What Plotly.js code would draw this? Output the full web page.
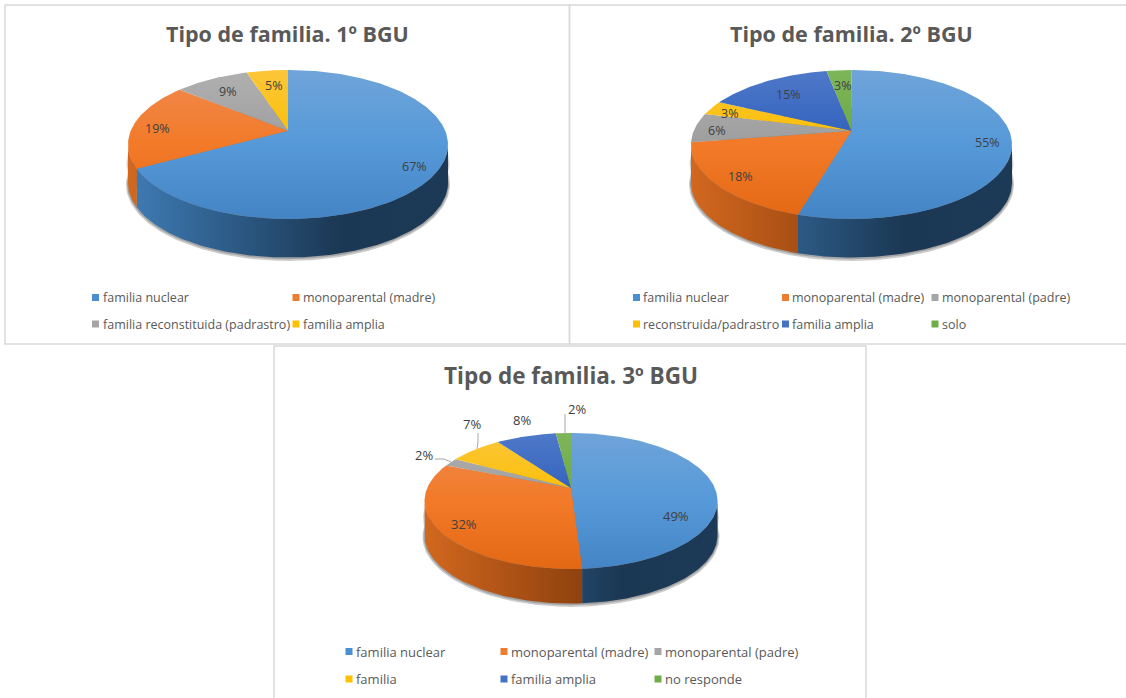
<!DOCTYPE html>
<html><head><meta charset="utf-8">
<script src="https://cdn.plot.ly/plotly-3.0.1.min.js"></script>
<style>html,body{margin:0;padding:0;background:#fff}#c{width:1126px;height:698px}</style>
</head><body><div id="c"></div>
<script>
// ---- data ----
const titleA = 'Tipo de familia. 1º BGU';
const catsA = ['familia nuclear','monoparental (madre)','familia reconstituida (padrastro)','familia amplia'];
const valsA = [67,19,9,5];
const colorsA = ['blue','orange','gray','yellow'];

const titleB = 'Tipo de familia. 2º BGU';
const catsB = ['familia nuclear','monoparental (madre)','monoparental (padre)','reconstruida/padrastro','familia amplia','solo'];
const valsB = [54.5,18,6.4,3.1,15,3];
const colorsB = ['blue','orange','gray','yellow','navy','green'];

const titleC = 'Tipo de familia. 3º BGU';
const catsC = ['familia nuclear','monoparental (madre)','monoparental (padre)','familia','familia amplia','no responde'];
const valsC = [49,32,2,7,8,2];
const colorsC = ['blue','orange','gray','yellow','navy','green'];

// ---- styles ----
const palette = {
  blue:  {key:'#4a90d0', top:['#6fa4d9','#5699d9','#4484c4'], side:['#3f7cb5','#2c5a85','#1b3753','#1c3a57']},
  orange:{key:'#ed7d31', top:['#f08a50','#f27a28','#e46814'], side:['#d2681f','#a84f14','#7f3a0c','#7f3a0c']},
  gray:  {key:'#a5a5a5', top:['#b0b0b0','#9e9e9e','#9c9c9c'], side:['#8a8a8a','#6a6a6a','#505050','#505050']},
  yellow:{key:'#ffc000', top:['#fdc63a','#f9bf00','#f5bb00'], side:['#c79600','#a07800','#7a5c00','#7a5c00']},
  navy:  {key:'#4472c4', top:['#4f79c9','#2f5fbc','#2f5fb8'], side:['#36599a','#2a4678','#1c2f52','#1c2f52']},
  green: {key:'#70ad47', top:['#7db65a','#6aa843','#68a53f'], side:['#578737','#41662a','#2f4a1e','#2f4a1e']}
};
const textColor = '#595959', labelColor = '#404040';
const fontFamily = 'Open Sans, sans-serif';

// ---- layout of each panel ----
const panels = [
 {title:titleA,cats:catsA,vals:valsA,cols:colorsA,cx:288,cy:144.5,rx:160,ry:74.5,k:0.185,depth:38.5,titleX:287.5,titleY:33,titleSize:21.5,textSize:12.5,
  labels:[[414,166],[157,128],[227,91],[273,85]],
  legend:{xs:[95.5,296],ys:[297.5,324],ncol:2,gap:8}},
 {title:titleB,cats:catsB,vals:valsB,cols:colorsB,cx:851.5,cy:144.5,rx:160.5,ry:74.5,k:0.185,depth:38.5,titleX:851,titleY:33,titleSize:21.5,textSize:12.5,
  labels:[[987,142],[740,176],[716,130],[729,113],[788,94],[842,85]],
  legend:{xs:[636.5,785.5,935],ys:[297.5,324],ncol:3,gap:7.5}},
 {title:titleC,cats:catsC,vals:valsC,cols:colorsC,cx:571,cy:501,rx:146.5,ry:68,k:0.19,depth:34.5,titleX:570.5,titleY:375,titleSize:22.5,textSize:13,
  labels:[[676,516],[464,524],[424,455],[472,424],[522,420],[576.5,409]],
  legend:{xs:[349,504,658],ys:[651.5,679],ncol:3,gap:8},
  leaders:[[[435,459],[444,459],[451,462]],[[478,433],[478,442],[477,449]],[[565,414],[565,433]]]}
];
const frames = [[5,5,569.5,344],[569.5,5,1130,344],[274,346,866,702]];

// perspective projection of a point at clockwise fraction f of the circle rim
function rim(p,f,r){
  const u=Math.sin(2*Math.PI*f), v=Math.cos(2*Math.PI*f), rr=r===undefined?1:r;
  const w=1+p.k*v*rr, c=p.rx*Math.sqrt(1-p.k*p.k);
  return [p.cx+c*u*rr/w, p.cy-p.ry*(v*rr+p.k)/w];
}
function arc(p,f0,f1){
  const n=Math.max(2,Math.ceil((f1-f0)*360)), out=[];
  for(let i=0;i<=n;i++) out.push(rim(p,f0+(f1-f0)*i/n));
  return out;
}
function scale(cols){return cols.map((c,i)=>[i/(cols.length-1),c]);}
function poly(pts,fill){
  return Object.assign({type:'scatter',mode:'lines',x:pts.map(q=>q[0]),y:pts.map(q=>q[1]),
    fill:'toself',line:{width:0},hoverinfo:'skip',showlegend:false},fill);
}

const traces=[], annotations=[], shapes=[];
frames.forEach(f=>shapes.push({type:'rect',xref:'x',yref:'y',x0:f[0],y0:f[1],x1:f[2],y1:f[3],line:{color:'#d9d9d9',width:1.5},layer:'below'}));

panels.forEach(p=>{
  const total=p.vals.reduce((a,b)=>a+b,0);
  const labelFont={family:fontFamily,size:p.textSize,color:labelColor};
  const legendFont={family:fontFamily,size:p.textSize,color:textColor};
  const titleFont={family:fontFamily,size:p.titleSize,color:'#595959',weight:700};
  // soft shadow under the disc
  [2,1].forEach(d=>{
    const pts=[];
    for(let i=0;i<=180;i++){const t=2*Math.PI*i/180;pts.push([p.cx+(p.rx+d)*Math.sin(t),p.cy+p.depth+d*0.7+(p.ry+d)*Math.cos(t)]);}
    traces.push(poly(pts,{fillcolor:'rgba(0,0,0,0.2)'}));
  });
  [2,1].forEach(d=>{
    const pts=[];
    for(let i=0;i<=180;i++){const t=2*Math.PI*i/180;pts.push([p.cx+(p.rx+d*0.8)*Math.sin(t),p.cy+p.depth*0.5+(p.ry)*Math.cos(t)]);}
    traces.push(poly(pts,{fillcolor:'rgba(0,0,0,0.12)'}));
  });
  // side walls
  const fR=Math.acos(-p.k)/(2*Math.PI), fL=1-fR;
  let acc=0;
  p.vals.forEach((v,i)=>{
    const f0=acc/total, f1=(acc+v)/total; acc+=v;
    const a=Math.max(f0,fR), b=Math.min(f1,fL);
    if(b<=a) return;
    const edge=arc(p,a,b);
    const low=edge.slice().reverse().map(q=>[q[0],q[1]+p.depth]);
    traces.push(poly(edge.concat(low,[edge[0]]),{
      fillgradient:{type:'horizontal',start:p.cx-p.rx,stop:p.cx+p.rx,colorscale:scale(palette[p.cols[i]].side)}}));
  });
  // top surface
  acc=0;
  const apex=rim(p,0,0);
  p.vals.forEach((v,i)=>{
    const f0=acc/total, f1=(acc+v)/total; acc+=v;
    const pts=[apex].concat(arc(p,f0,f1),[apex]);
    traces.push(poly(pts,{
      fillgradient:{type:'vertical',start:p.cy-p.ry,stop:p.cy+p.ry,colorscale:scale(palette[p.cols[i]].top)}}));
  });
  // value labels
  p.vals.forEach((v,i)=>annotations.push({xref:'x',yref:'y',x:p.labels[i][0],y:p.labels[i][1],text:Math.round(v)+'%',showarrow:false,font:labelFont,xanchor:'center',yanchor:'middle'}));
  // title
  annotations.push({xref:'x',yref:'y',x:p.titleX,y:p.titleY,text:p.title,showarrow:false,font:titleFont,xanchor:'center',yanchor:'middle'});
  // leader lines
  (p.leaders||[]).forEach(l=>traces.push({type:'scatter',mode:'lines',x:l.map(q=>q[0]),y:l.map(q=>q[1]),line:{color:'#a6a6a6',width:1},hoverinfo:'skip',showlegend:false}));
  // legend keys and texts
  const lx=[],ly=[],lt=[],lc=[];
  p.cats.forEach((c,i)=>{
    lx.push(p.legend.xs[i%p.legend.ncol]);
    ly.push(p.legend.ys[Math.floor(i/p.legend.ncol)]);
    lt.push(c); lc.push(palette[p.cols[i]].key);
  });
  traces.push({type:'scatter',mode:'markers',x:lx,y:ly,marker:{symbol:'square',size:7,color:lc,line:{width:0}},hoverinfo:'skip',showlegend:false,cliponaxis:false});
  lt.forEach((t,i)=>annotations.push({xref:'x',yref:'y',x:lx[i]+p.legend.gap-3,y:ly[i],text:t,showarrow:false,font:legendFont,xanchor:'left',yanchor:'middle'}));
});

Plotly.newPlot('c',traces,{
  width:1126,height:698,margin:{l:0,r:0,t:0,b:0},
  paper_bgcolor:'#ffffff',plot_bgcolor:'#ffffff',showlegend:false,
  xaxis:{range:[0,1126],visible:false,fixedrange:true},
  yaxis:{range:[698,0],visible:false,fixedrange:true},
  shapes:shapes,annotations:annotations
},{displayModeBar:false,staticPlot:true});
</script></body></html>
